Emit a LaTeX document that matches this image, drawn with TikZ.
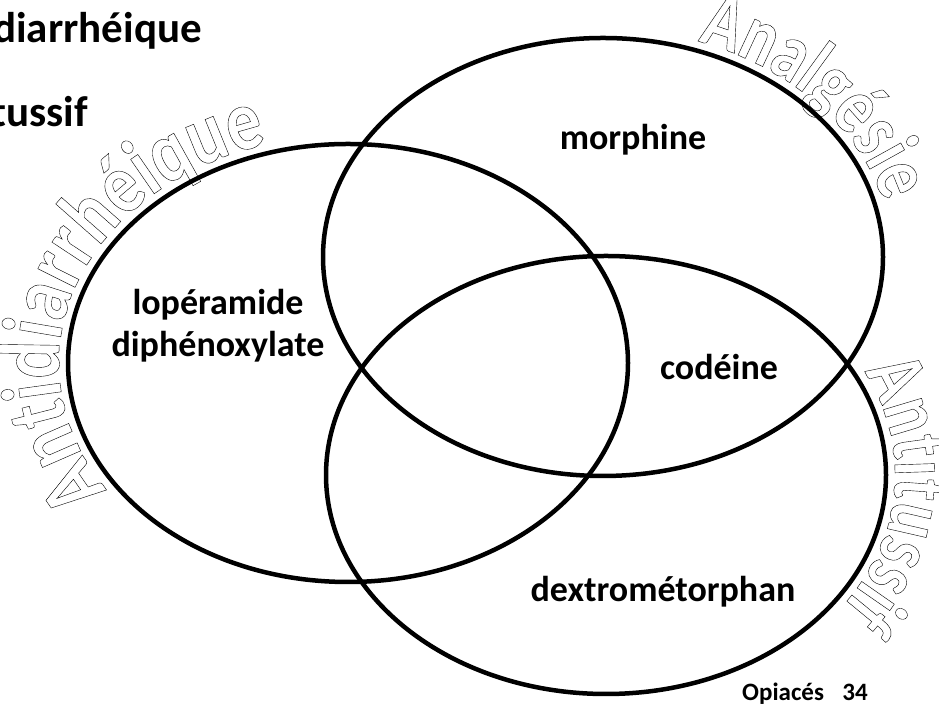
\documentclass[tikz,border=0pt]{standalone}
\usepackage{fontspec}
\setmainfont{Carlito}
\newfontfamily\arcfont{Carlito Bold}[FakeStretch=0.78]
\newfontfamily\arcfontL{Carlito Bold}[FakeStretch=0.82]
\usetikzlibrary{decorations.text}
\newcommand\outlinetext{\special{pdf:literal direct 1 Tr}}
\newcommand\arcsize{\arcfont\fontsize{82}{86}\selectfont\outlinetext}
\newcommand\arcsizeL{\arcfontL\fontsize{86}{90}\selectfont\outlinetext}
\begin{document}
\begin{tikzpicture}[x=1pt,y=1pt,
  venn/.style={line width=4.5pt},
  lbl/.style={font=\bfseries\fontsize{36}{40}\selectfont, inner sep=0pt, anchor=base},
  cut/.style={font=\bfseries\fontsize{43}{47}\selectfont, inner sep=0pt, anchor=base east},
  small/.style={font=\bfseries\fontsize{25}{29}\selectfont, inner sep=0pt},
  arctext/.style 2 args={line width=1.7pt, decorate,
    decoration={text along path, text align=center,
      text={|#1|#2}}}]
\useasboundingbox (0,0) rectangle (939,708);
\clip (0,0) rectangle (939,708);
\coordinate (L) at (348,345);
\coordinate (T) at (603,451);
\coordinate (B) at (606,233);
% circles
\draw[venn] (L) ellipse [x radius=280pt, y radius=219pt];
\draw[venn] (T) ellipse [x radius=280pt, y radius=219pt];
\draw[venn] (B) ellipse [x radius=280pt, y radius=219pt];
% curved outlined titles
\path[arctext={\arcsize}{Analgésie}] (T) ++(82:289pt and 228pt) arc[start angle=82, end angle=0, x radius=289pt, y radius=228pt];
\path[arctext={\arcsizeL}{Antidiarrhéique}] (L) ++(235:289pt and 228pt) arc[start angle=235, end angle=87, x radius=289pt, y radius=228pt];
\path[arctext={\arcsize}{Antitussif}] (B) ++(38:289pt and 228pt) arc[start angle=38, end angle=-46, x radius=289pt, y radius=228pt];
% labels
\node[lbl] (morph) at (633,558) {morphine};
\node[lbl] (lope) at (218,393) {lopéramide};
\node[lbl] (diph) at (218,351) {diphénoxylate};
\node[lbl] (code) at (719,328) {codéine};
\node[lbl] (dextro) at (663,106) {dextrométorphan};
\node[small, anchor=base west] (opi) at (742,7) {Opiacés};
\node[small, anchor=base east] (page) at (868,7) {34};
% cut-off texts at top left
\node[cut] (cutA) at (202,665) {Antidiarrhéique};
\node[cut] (cutB) at (88,581) {Antitussif};
\end{tikzpicture}
\end{document}
